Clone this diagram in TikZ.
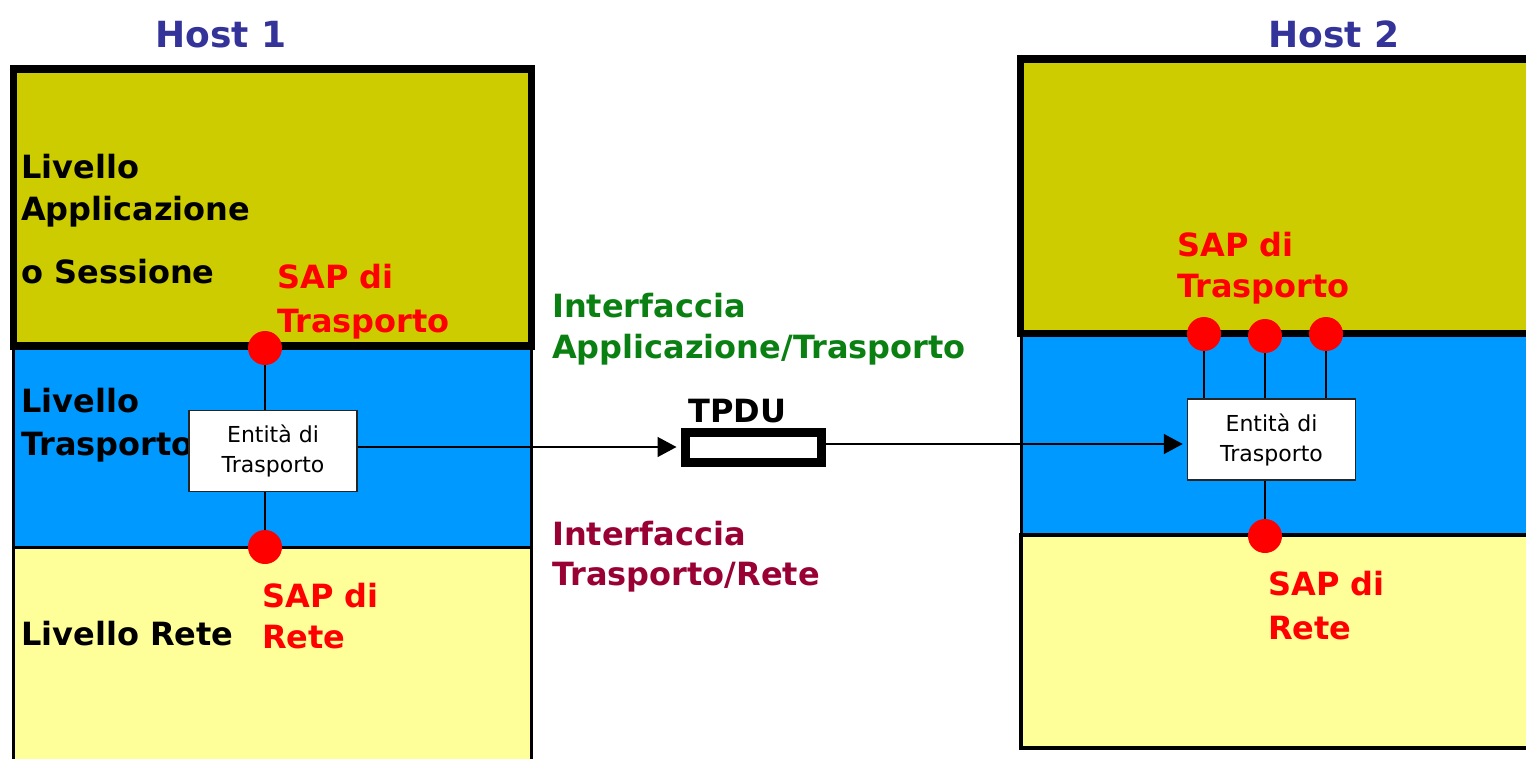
\documentclass[tikz,border=0pt]{standalone}
\usepackage{fontspec}
\setmainfont{DejaVu Sans}
\usetikzlibrary{arrows.meta}
\definecolor{olivefill}{HTML}{CCCC00}
\definecolor{bluefill}{HTML}{0099FF}
\definecolor{yellowfill}{HTML}{FFFF99}
\definecolor{sapred}{HTML}{FF0000}
\definecolor{hostblue}{HTML}{333399}
\definecolor{ifgreen}{HTML}{0A8012}
\definecolor{ifmaroon}{HTML}{990033}
\begin{document}
\begin{tikzpicture}[x=1pt,y=-1pt,
  lbl/.style={anchor=base west, inner sep=0pt, font=\fontsize{32}{38}\selectfont\bfseries},
  redlbl/.style={lbl, text=sapred},
  greenlbl/.style={lbl, text=ifgreen},
  maroonlbl/.style={lbl, text=ifmaroon},
  hostlbl/.style={lbl, font=\fontsize{36}{42}\selectfont\bfseries, text=hostblue},
  layer/.style={line width=3pt, draw=black},
  toplayer/.style={line width=7.5pt, draw=black, fill=olivefill},
  entity/.style={draw=black!85, fill=white, line width=1.5pt, inner sep=0pt, align=center,
    font=\fontsize{22}{30}\selectfont, minimum width=168pt, minimum height=81pt},
  sap/.style={circle, fill=sapred, inner sep=0pt, minimum size=34pt},
  wire/.style={line width=1.5pt},
  arr/.style={wire, -{Triangle[length=19pt,width=20pt]}},
  pdu/.style={draw, line width=9pt, fill=white, minimum width=136pt, minimum height=30pt, inner sep=0pt}]
\useasboundingbox (0,0) rectangle (1526,758);
\clip (0,0) rectangle (1526,758);
\fill[white] (0,0) rectangle (1526,758);

% Host 1 layers
\filldraw[layer, fill=bluefill] (13.5,346) rectangle (531.5,547);
\filldraw[layer, fill=yellowfill] (13.5,547) rectangle (531.5,800);
\filldraw[toplayer] (13.5,69) rectangle (531.5,346);

% Host 2 layers
\filldraw[layer, fill=bluefill] (1021,335) rectangle (1570,535);
\filldraw[layer, fill=yellowfill, line width=4pt] (1021,535) rectangle (1570,748);
\filldraw[toplayer] (1020.3,59) rectangle (1570,333.5);

% Host titles
\node[hostlbl] (h1) at (155,47) {Host 1};
\node[hostlbl] (h2) at (1268,47) {Host 2};

% Host 1 texts
\node[lbl] (app1) at (21,178) {Livello};
\node[lbl] (app2) at (21,220) {Applicazione};
\node[lbl] (app3) at (21,283) {o Sessione};
\node[lbl] (tr1) at (21,412) {Livello};
\node[lbl] (tr2) at (21,455) {Trasporto};
\node[lbl] (rete1) at (21,645) {Livello Rete};
\node[redlbl] (s1a) at (277,288) {SAP di};
\node[redlbl] (s1b) at (277,332) {Trasporto};
\node[redlbl] (s1c) at (262,607) {SAP di};
\node[redlbl] (s1d) at (262,648) {Rete};

% Middle texts
\node[greenlbl] (if1a) at (552,317) {Interfaccia};
\node[greenlbl] (if1b) at (552,358) {Applicazione/Trasporto};
\node[maroonlbl] (if2a) at (552,545) {Interfaccia};
\node[maroonlbl] (if2b) at (552,585) {Trasporto/Rete};
\node[lbl] (tpdulbl) at (688,422) {TPDU};

% Host 2 texts
\node[redlbl] (s2a) at (1177,256) {SAP di};
\node[redlbl] (s2b) at (1177,297) {Trasporto};
\node[redlbl] (s2c) at (1268,595) {SAP di};
\node[redlbl] (s2d) at (1268,639) {Rete};

% Entities
\node[entity] (ent1) at (273,451) {Entità di\\Trasporto};
\node[entity] (ent2) at (1271.5,439.5) {Entità di\\Trasporto};

% SAP positions
\coordinate (p1t) at (265,348);
\coordinate (p1r) at (265,547);
\coordinate (p2a) at (1204,334);
\coordinate (p2b) at (1265,336);
\coordinate (p2c) at (1326,334);
\coordinate (p2r) at (1265,536);

% wires
\draw[wire] (p1t) -- (p1t |- ent1.north);
\draw[wire] (p1r |- ent1.south) -- (p1r);
\draw[wire] (p2a) -- (p2a |- ent2.north);
\draw[wire] (p2b) -- (p2b |- ent2.north);
\draw[wire] (p2c) -- (p2c |- ent2.north);
\draw[wire] (p2r |- ent2.south) -- (p2r);

% SAP dots
\node[sap] (sap1t) at (p1t) {};
\node[sap] (sap1r) at (p1r) {};
\node[sap] (sap2a) at (p2a) {};
\node[sap] (sap2b) at (p2b) {};
\node[sap] (sap2c) at (p2c) {};
\node[sap] (sap2r) at (p2r) {};

% TPDU and arrows
\node[pdu] (tpdu) at (753.5,447) {};
\draw[arr, shorten >=4.5pt] (ent1.east |- tpdu.west) -- (tpdu.west);
\coordinate (m) at ([yshift=3pt]tpdu.east);
\draw[arr, shorten >=4pt] (m) -- (m -| ent2.west);
\end{tikzpicture}
\end{document}
